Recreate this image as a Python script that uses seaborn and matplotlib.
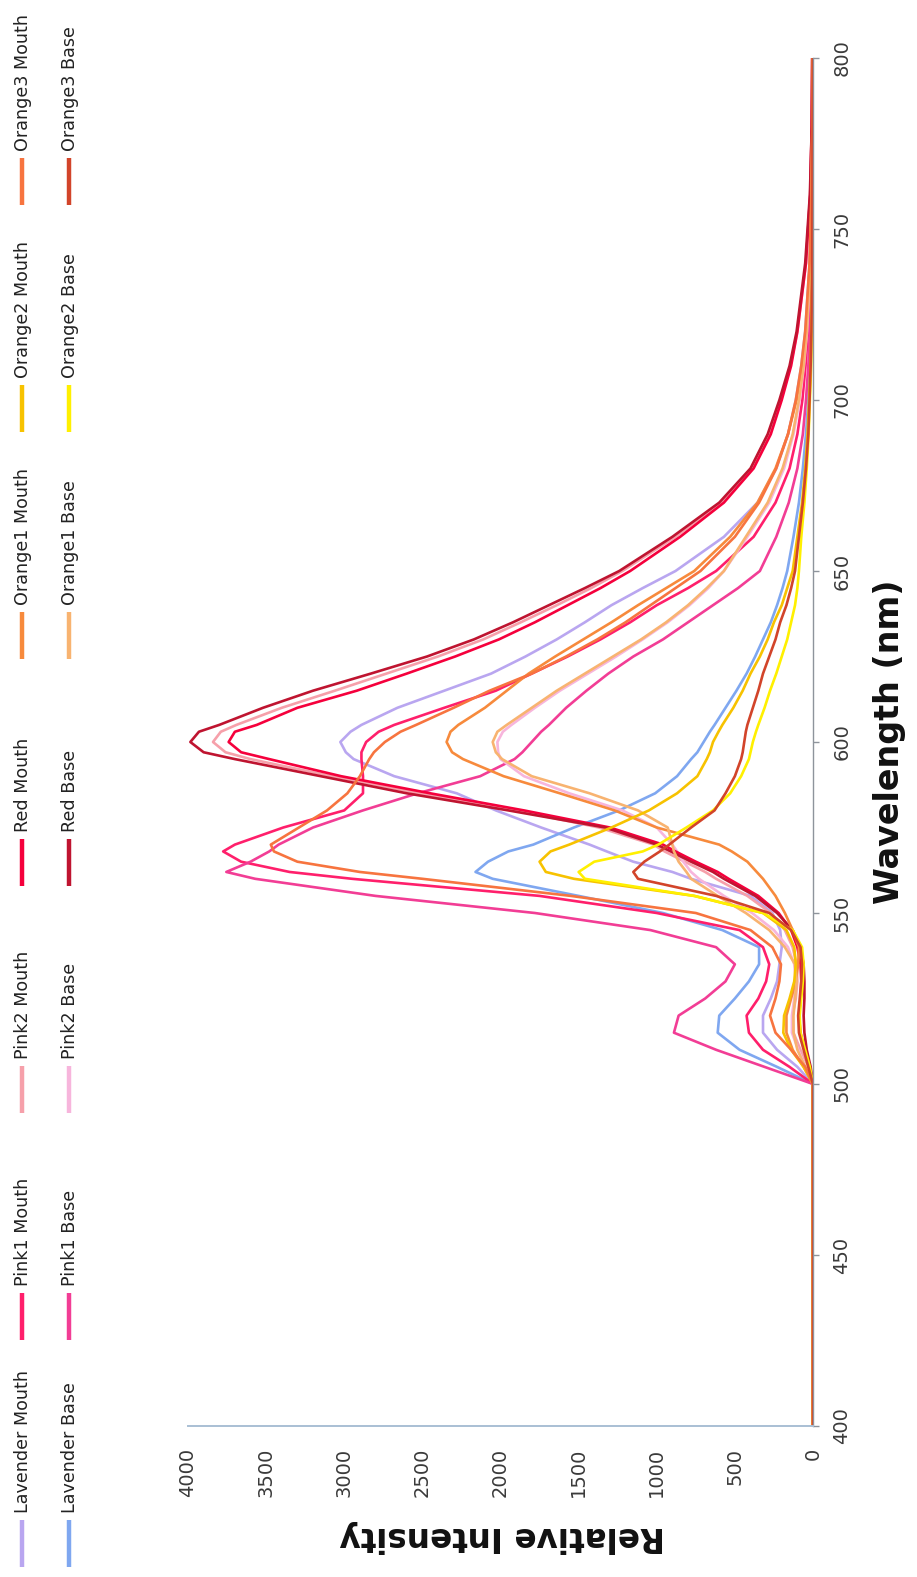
import numpy as np
import pandas as pd
import matplotlib
matplotlib.use("Agg")
import matplotlib.pyplot as plt
import seaborn as sns
from matplotlib.lines import Line2D

# Emission wavelengths (nm) shared by every spectrum
wavelength = [400, 495, 500, 505, 510, 515, 520, 525, 530, 535, 540, 545, 550, 555,
              560, 562, 565, 568, 570, 575, 580, 585, 590, 595, 597, 600, 603, 605, 610, 615,
              620, 625, 630, 635, 640, 645, 650, 660, 670, 680, 690, 700, 710, 720,
              740, 760, 780, 800]

# Relative intensity of each sample at the wavelengths above
lavender_mouth = [0, 0, 0, 100, 230, 320, 320, 270, 230, 215, 200, 210, 260, 400,
                  780, 900, 1150, 1320, 1430, 1740, 2030, 2280, 2680, 2940, 2990, 3025, 2960, 2890, 2660, 2360,
                  2060, 1840, 1640, 1460, 1290, 1090, 880, 570, 355, 235, 160, 110, 75, 50,
                  22, 10, 5, 3]
lavender_base = [0, 0, 0, 230, 470, 610, 600, 500, 410, 345, 345, 580, 960, 1500,
                 2050, 2160, 2080, 1950, 1790, 1530, 1240, 1010, 870, 780, 740, 700, 660, 630, 560, 490,
                 425, 370, 320, 270, 230, 195, 165, 125, 90, 65, 45, 30, 20, 12,
                 6, 3, 2, 1]
pink1_mouth = [0, 0, 0, 150, 320, 410, 425, 350, 300, 280, 320, 470, 1000, 1750,
               2950, 3350, 3660, 3775, 3700, 3390, 3000, 2880, 2880, 2890, 2890, 2860, 2780, 2680, 2360, 2030,
               1800, 1570, 1360, 1170, 1000, 800, 620, 380, 240, 150, 100, 68, 48, 32,
               15, 7, 4, 2]
pink1_base = [0, 0, 0, 310, 620, 890, 860, 690, 560, 500, 620, 1040, 1780, 2800,
              3570, 3755, 3600, 3480, 3420, 3200, 2880, 2530, 2130, 1910, 1860, 1800, 1740, 1690, 1580, 1450,
              1310, 1150, 960, 800, 640, 480, 340, 235, 155, 100, 65, 45, 30, 20,
              10, 5, 3, 2]
pink2_mouth = [0, 0, 0, 30, 80, 125, 130, 110, 100, 105, 130, 180, 270, 420,
               620, 690, 820, 950, 1020, 1370, 1900, 2520, 3080, 3600, 3760, 3840, 3790, 3690, 3400, 3060,
               2730, 2400, 2110, 1870, 1640, 1420, 1220, 880, 590, 390, 280, 205, 145, 100,
               45, 18, 8, 5]
pink2_base = [0, 0, 0, 50, 95, 135, 135, 120, 110, 120, 160, 250, 390, 570,
              730, 780, 830, 870, 900, 1000, 1220, 1560, 1850, 2000, 2015, 2020, 1985, 1930, 1780, 1620,
              1440, 1260, 1090, 930, 790, 670, 570, 420, 280, 185, 125, 85, 58, 38,
              17, 8, 4, 2]
red_mouth = [0, 0, 0, 20, 55, 80, 90, 80, 75, 80, 100, 140, 220, 350,
             540, 610, 750, 880, 960, 1300, 1850, 2450, 3020, 3480, 3660, 3740, 3700, 3560, 3300, 2920,
             2600, 2290, 2010, 1780, 1570, 1360, 1170, 850, 570, 380, 270, 200, 140, 100,
             45, 18, 8, 5]
red_base = [0, 0, 0, 15, 40, 55, 60, 55, 55, 60, 80, 130, 230, 370,
            570, 640, 780, 910, 1000, 1330, 1950, 2600, 3150, 3700, 3900, 3985, 3930, 3800, 3520, 3200,
            2830, 2470, 2170, 1920, 1690, 1460, 1240, 900, 600, 400, 290, 215, 150, 105,
            50, 20, 8, 5]
orange1_mouth = [0, 0, 0, 60, 130, 170, 170, 140, 110, 95, 90, 130, 180, 240,
                 320, 360, 420, 520, 600, 1000, 1270, 1620, 1980, 2240, 2310, 2345, 2320, 2270, 2100, 1960,
                 1820, 1650, 1470, 1290, 1120, 940, 760, 530, 355, 240, 160, 105, 70, 45,
                 20, 9, 4, 2]
orange1_base = [0, 0, 0, 50, 100, 125, 125, 115, 105, 115, 180, 280, 430, 610,
                780, 810, 860, 890, 900, 930, 1120, 1430, 1800, 1990, 2030, 2050, 2020, 1960, 1800, 1640,
                1460, 1280, 1100, 940, 800, 680, 570, 430, 290, 195, 130, 90, 60, 40,
                18, 8, 4, 2]
orange2_mouth = [0, 0, 0, 60, 140, 190, 185, 150, 120, 110, 120, 170, 320, 760,
                 1530, 1710, 1750, 1680, 1560, 1290, 1050, 870, 740, 680, 660, 640, 605, 580, 510, 450,
                 400, 340, 290, 250, 200, 165, 130, 100, 70, 50, 35, 25, 15, 10,
                 5, 3, 2, 1]
orange2_base = [0, 0, 0, 20, 50, 80, 85, 75, 65, 60, 70, 130, 320, 760,
                1460, 1500, 1400, 1090, 990, 810, 640, 530, 460, 410, 400, 385, 365, 350, 310, 275,
                235, 200, 165, 140, 115, 100, 90, 75, 55, 40, 28, 20, 12, 8,
                4, 2, 1, 1]
orange3_mouth = [0, 0, 0, 50, 140, 240, 275, 240, 215, 205, 260, 400, 750, 1550,
                 2500, 2900, 3300, 3450, 3470, 3290, 3110, 2980, 2900, 2840, 2810, 2740, 2640, 2540, 2300, 2070,
                 1800, 1580, 1380, 1200, 1040, 880, 720, 500, 345, 235, 160, 110, 75, 50,
                 22, 10, 5, 3]
orange3_base = [0, 0, 0, 30, 60, 90, 95, 85, 75, 70, 80, 140, 280, 620,
                1120, 1150, 1080, 980, 920, 780, 630, 560, 500, 460, 450, 440, 430, 420, 385, 350,
                320, 280, 240, 210, 170, 140, 115, 90, 65, 45, 30, 22, 15, 10,
                5, 3, 2, 1]

series_names = ["Lavender Mouth", "Lavender Base", "Pink1 Mouth", "Pink1 Base",
                "Pink2 Mouth", "Pink2 Base", "Red Mouth", "Red Base",
                "Orange1 Mouth", "Orange1 Base", "Orange2 Mouth", "Orange2 Base",
                "Orange3 Mouth", "Orange3 Base"]
series_values = [lavender_mouth, lavender_base, pink1_mouth, pink1_base,
                 pink2_mouth, pink2_base, red_mouth, red_base,
                 orange1_mouth, orange1_base, orange2_mouth, orange2_base,
                 orange3_mouth, orange3_base]
series_colors = ["#b9a6f0", "#7fa7f0", "#ff1f6b", "#f23d95",
                 "#f6a0aa", "#f7b5dc", "#f5003c", "#bf1430",
                 "#f78a3c", "#f8b370", "#f7c200", "#fff000",
                 "#f7743f", "#d2442a"]

intensity_ticks = list(range(0, 4001, 500))
wavelength_ticks = list(range(400, 801, 50))

rows = []
for name, vals in zip(series_names, series_values):
    assert len(vals) == len(wavelength), name
    for w, v in zip(wavelength, vals):
        rows.append({"series": name, "wavelength": w, "intensity": v})
df = pd.DataFrame(rows)

sns.set_style("white")
plt.rcParams["font.family"] = ["DejaVu Sans"]

W, H = 917, 1577
fig = plt.figure(figsize=(W / 100, H / 100), dpi=100)
fig.patch.set_facecolor("white")

def fx(px):
    return px / W

def fy(py):
    return 1 - py / H

# plot area: intensity 4000 -> 0 left to right, wavelength 400 -> 800 bottom to top
ax = fig.add_axes([fx(188), fy(1426), fx(813) - fx(188), fy(58) - fy(1426)])
ax.set_facecolor("white")

sns.lineplot(data=df, x="intensity", y="wavelength", hue="series",
             hue_order=series_names, palette=dict(zip(series_names, series_colors)),
             estimator=None, sort=False, orient="y", legend=False,
             linewidth=1.9, ax=ax)

ax.set_xlim(4000, 0)
ax.set_ylim(400, 800)
ax.set_xlabel("")
ax.set_ylabel("")

for side in ["top", "left"]:
    ax.spines[side].set_visible(False)
ax.spines["right"].set_color("#8e949c")
ax.spines["right"].set_linewidth(1.0)
ax.spines["bottom"].set_color("#a9bfd4")
ax.spines["bottom"].set_linewidth(1.4)

ax.yaxis.tick_right()
ax.set_yticks(wavelength_ticks)
ax.set_yticklabels([str(t) for t in wavelength_ticks], rotation=90, va="center")
ax.tick_params(axis="y", which="major", direction="out", length=4.5, width=1.0,
               color="#8e949c", pad=9.5, labelsize=14, labelcolor="#3a3a3a",
               left=False, right=True)

ax.set_xticks(intensity_ticks)
ax.set_xticklabels([str(t) for t in intensity_ticks], rotation=90, va="top", ha="center")
ax.tick_params(axis="x", which="major", direction="out", length=5, width=1.0,
               color="#a9bfd4", pad=10.5, labelsize=14, labelcolor="#3a3a3a")
ax.grid(False)

# axis titles
fig.text(fx(502), fy(1536), "Relative Intensity", rotation=180, ha="center", va="center",
         fontsize=23.5, fontweight="bold", color="#111111")
fig.text(fx(890), fy(742), "Wavelength (nm)", rotation=90, ha="center", va="center",
         fontsize=24, fontweight="bold", color="#111111")

# legend: seven columns of Mouth / Base pairs, stacked along the left edge
for i, (name, color) in enumerate(zip(series_names, series_colors)):
    col, row = divmod(i, 2)
    y_bottom = 1567 - col * 227
    x_c = 22 if row == 0 else 69
    fig.add_artist(Line2D([fx(x_c), fx(x_c)], [fy(y_bottom), fy(y_bottom - 47)],
                          color=color, linewidth=3.2, solid_capstyle="butt",
                          transform=fig.transFigure))
    fig.text(fx(x_c + 1), fy(y_bottom - 54), name, rotation=90, ha="center", va="bottom",
             fontsize=12.6, color="#222222")

fig.savefig("out.png", dpi=100, facecolor="white")
